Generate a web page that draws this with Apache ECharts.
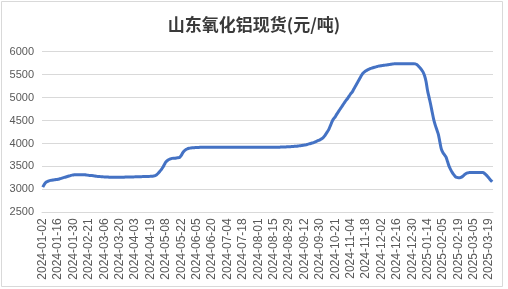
<!DOCTYPE html>
<html>
<head>
<meta charset="utf-8">
<script src="https://cdn.jsdelivr.net/npm/echarts@6/dist/echarts.min.js"></script>
<style>
html,body{margin:0;padding:0;background:#fff;}
#chart{width:508px;height:289px;}
</style>
</head>
<body>
<div id="chart"></div>
<script>
var chartTitle = '山东氧化铝现货(元/吨)';

var dates = [
'2024-01-02','2024-01-03','2024-01-04','2024-01-05','2024-01-08','2024-01-09','2024-01-10','2024-01-11','2024-01-12','2024-01-15',
'2024-01-16','2024-01-17','2024-01-18','2024-01-19','2024-01-22','2024-01-23','2024-01-24','2024-01-25','2024-01-26','2024-01-29',
'2024-01-30','2024-01-31','2024-02-01','2024-02-02','2024-02-05','2024-02-06','2024-02-07','2024-02-08','2024-02-19','2024-02-20',
'2024-02-21','2024-02-22','2024-02-23','2024-02-26','2024-02-27','2024-02-28','2024-02-29','2024-03-01','2024-03-04','2024-03-05',
'2024-03-06','2024-03-07','2024-03-08','2024-03-11','2024-03-12','2024-03-13','2024-03-14','2024-03-15','2024-03-18','2024-03-19',
'2024-03-20','2024-03-21','2024-03-22','2024-03-25','2024-03-26','2024-03-27','2024-03-28','2024-03-29','2024-04-01','2024-04-02',
'2024-04-03','2024-04-08','2024-04-09','2024-04-10','2024-04-11','2024-04-12','2024-04-15','2024-04-16','2024-04-17','2024-04-18',
'2024-04-19','2024-04-22','2024-04-23','2024-04-24','2024-04-25','2024-04-26','2024-04-29','2024-04-30','2024-05-06','2024-05-07',
'2024-05-08','2024-05-09','2024-05-10','2024-05-13','2024-05-14','2024-05-15','2024-05-16','2024-05-17','2024-05-20','2024-05-21',
'2024-05-22','2024-05-23','2024-05-24','2024-05-27','2024-05-28','2024-05-29','2024-05-30','2024-05-31','2024-06-03','2024-06-04',
'2024-06-05','2024-06-06','2024-06-07','2024-06-11','2024-06-12','2024-06-13','2024-06-14','2024-06-17','2024-06-18','2024-06-19',
'2024-06-20','2024-06-21','2024-06-24','2024-06-25','2024-06-26','2024-06-27','2024-06-28','2024-07-01','2024-07-02','2024-07-03',
'2024-07-04','2024-07-05','2024-07-08','2024-07-09','2024-07-10','2024-07-11','2024-07-12','2024-07-15','2024-07-16','2024-07-17',
'2024-07-18','2024-07-19','2024-07-22','2024-07-23','2024-07-24','2024-07-25','2024-07-26','2024-07-29','2024-07-30','2024-07-31',
'2024-08-01','2024-08-02','2024-08-05','2024-08-06','2024-08-07','2024-08-08','2024-08-09','2024-08-12','2024-08-13','2024-08-14',
'2024-08-15','2024-08-16','2024-08-19','2024-08-20','2024-08-21','2024-08-22','2024-08-23','2024-08-26','2024-08-27','2024-08-28',
'2024-08-29','2024-08-30','2024-09-02','2024-09-03','2024-09-04','2024-09-05','2024-09-06','2024-09-09','2024-09-10','2024-09-11',
'2024-09-12','2024-09-13','2024-09-18','2024-09-19','2024-09-20','2024-09-23','2024-09-24','2024-09-25','2024-09-26','2024-09-27',
'2024-09-30','2024-10-08','2024-10-09','2024-10-10','2024-10-11','2024-10-14','2024-10-15','2024-10-16','2024-10-17','2024-10-18',
'2024-10-21','2024-10-22','2024-10-23','2024-10-24','2024-10-25','2024-10-28','2024-10-29','2024-10-30','2024-10-31','2024-11-01',
'2024-11-04','2024-11-05','2024-11-06','2024-11-07','2024-11-08','2024-11-11','2024-11-12','2024-11-13','2024-11-14','2024-11-15',
'2024-11-18','2024-11-19','2024-11-20','2024-11-21','2024-11-22','2024-11-25','2024-11-26','2024-11-27','2024-11-28','2024-11-29',
'2024-12-02','2024-12-03','2024-12-04','2024-12-05','2024-12-06','2024-12-09','2024-12-10','2024-12-11','2024-12-12','2024-12-13',
'2024-12-16','2024-12-17','2024-12-18','2024-12-19','2024-12-20','2024-12-23','2024-12-24','2024-12-25','2024-12-26','2024-12-27',
'2024-12-30','2024-12-31','2025-01-02','2025-01-03','2025-01-06','2025-01-07','2025-01-08','2025-01-09','2025-01-10','2025-01-13',
'2025-01-14','2025-01-15','2025-01-16','2025-01-17','2025-01-20','2025-01-21','2025-01-22','2025-01-23','2025-01-24','2025-01-27',
'2025-02-05','2025-02-06','2025-02-07','2025-02-10','2025-02-11','2025-02-12','2025-02-13','2025-02-14','2025-02-17','2025-02-18',
'2025-02-19','2025-02-20','2025-02-21','2025-02-24','2025-02-25','2025-02-26','2025-02-27','2025-02-28','2025-03-03','2025-03-04',
'2025-03-05','2025-03-06','2025-03-07','2025-03-10','2025-03-11','2025-03-12','2025-03-13','2025-03-14','2025-03-17','2025-03-18',
'2025-03-19','2025-03-20','2025-03-21'
];

var prices = [
3050,3110,3150,3170,3185,3195,3200,3205,3210,3215,
3220,3230,3240,3250,3260,3270,3280,3290,3300,3310,
3315,3320,3320,3320,3320,3320,3320,3320,3315,3310,
3305,3300,3300,3295,3290,3285,3280,3280,3275,3275,
3270,3270,3270,3265,3265,3265,3265,3265,3265,3265,
3265,3265,3265,3265,3270,3270,3270,3270,3270,3270,
3275,3275,3275,3275,3275,3280,3280,3280,3280,3280,
3285,3285,3290,3300,3320,3350,3390,3430,3480,3540,
3600,3630,3650,3665,3675,3680,3680,3685,3690,3700,
3740,3800,3840,3870,3885,3895,3900,3905,3905,3910,
3910,3910,3915,3915,3915,3915,3915,3915,3915,3915,
3920,3920,3920,3920,3920,3920,3920,3920,3920,3920,
3920,3920,3920,3920,3920,3920,3920,3920,3920,3920,
3920,3920,3920,3920,3920,3920,3920,3920,3920,3920,
3920,3920,3920,3920,3920,3920,3920,3920,3920,3920,
3920,3920,3920,3920,3920,3925,3925,3925,3925,3930,
3930,3930,3935,3935,3940,3940,3945,3950,3955,3960,
3965,3970,3980,3990,4000,4010,4020,4035,4050,4065,
4080,4100,4120,4160,4210,4260,4320,4400,4480,4540,
4580,4640,4690,4740,4790,4840,4890,4940,4980,5030,
5080,5120,5180,5240,5300,5360,5420,5480,5530,5560,
5585,5605,5620,5635,5645,5655,5665,5675,5685,5690,
5695,5700,5705,5710,5715,5720,5725,5730,5735,5740,
5740,5740,5740,5740,5740,5740,5740,5740,5740,5740,
5740,5740,5735,5720,5690,5650,5610,5560,5480,5350,
5150,5000,4850,4680,4520,4400,4300,4200,4030,3870,
3800,3750,3700,3600,3500,3430,3370,3320,3280,3260,
3255,3255,3265,3290,3320,3345,3360,3365,3370,3370,
3370,3370,3370,3370,3370,3370,3370,3345,3315,3280,
3240,3200,3165
];

var yMin = 2500, yMax = 6000, yStep = 500;

var chart = echarts.init(document.getElementById('chart'), null, {renderer: 'canvas'});
chart.setOption({
  backgroundColor: '#ffffff',
  animation: false,
  title: {
    text: chartTitle,
    left: 'center',
    top: 11,
    textStyle: {
      fontFamily: '"Noto Sans CJK SC", sans-serif',
      fontSize: 17,
      fontWeight: 'bold',
      color: '#3a3a3a'
    }
  },
  graphic: [{
    type: 'rect',
    shape: {x: 1.5, y: 1.5, width: 501, height: 285},
    style: {fill: 'none', stroke: '#d9d9d9', lineWidth: 1},
    silent: true
  }],
  grid: {left: 42, right: 15, top: 51.7, bottom: 76.7, containLabel: false},
  xAxis: {
    type: 'category',
    data: dates,
    boundaryGap: true,
    axisLine: {show: true, lineStyle: {color: '#d9d9d9', width: 1}},
    axisTick: {show: false},
    axisLabel: {
      interval: 9,
      rotate: 90,
      margin: 6,
      fontSize: 12,
      fontFamily: '"Liberation Sans", Arial, sans-serif',
      color: '#595959'
    },
    splitLine: {show: false}
  },
  yAxis: {
    type: 'value',
    min: yMin,
    max: yMax,
    interval: yStep,
    axisLine: {show: false},
    axisTick: {show: false},
    axisLabel: {
      margin: 8,
      fontSize: 11,
      fontFamily: '"Liberation Sans", Arial, sans-serif',
      color: '#595959',
      formatter: function (v) { return String(v); }
    },
    splitLine: {show: true, lineStyle: {color: '#d9d9d9', width: 1}}
  },
  series: [{
    type: 'line',
    data: prices,
    showSymbol: false,
    smooth: 0.3,
    lineStyle: {color: '#4472C4', width: 3},
    itemStyle: {color: '#4472C4'}
  }]
});
</script>
</body>
</html>
